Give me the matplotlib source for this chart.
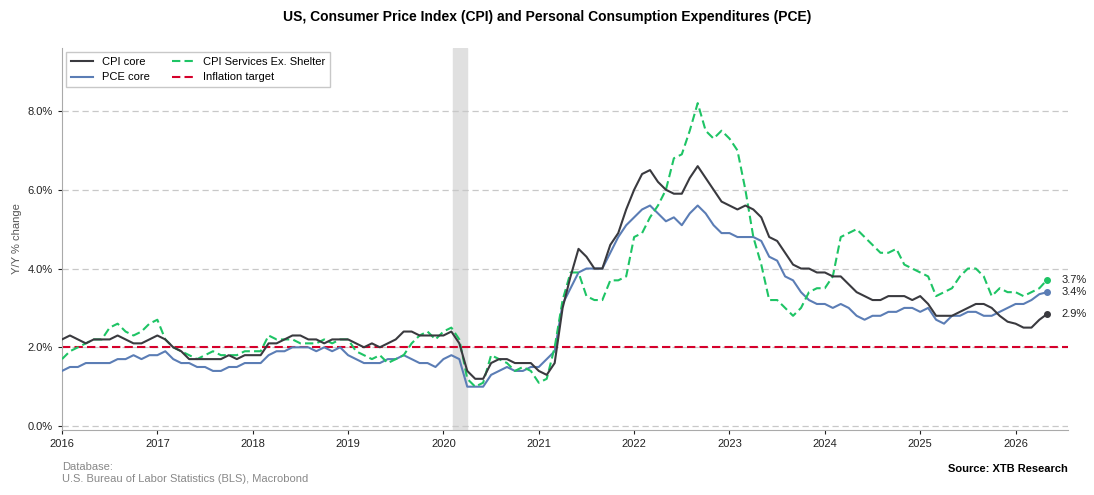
import matplotlib
matplotlib.use("Agg")
import matplotlib.pyplot as plt
import numpy as np
from matplotlib.ticker import FuncFormatter

plt.rcParams['font.family'] = ['Liberation Sans', 'DejaVu Sans']

# monthly values, Jan 2016 .. May 2026
cpi_core = [2.2, 2.3, 2.2, 2.1, 2.2, 2.2, 2.2, 2.3, 2.2, 2.1, 2.1, 2.2,
            2.3, 2.2, 2.0, 1.9, 1.7, 1.7, 1.7, 1.7, 1.7, 1.8, 1.7, 1.8,
            1.8, 1.8, 2.1, 2.1, 2.2, 2.3, 2.3, 2.2, 2.2, 2.1, 2.2, 2.2,
            2.2, 2.1, 2.0, 2.1, 2.0, 2.1, 2.2, 2.4, 2.4, 2.3, 2.3, 2.3,
            2.3, 2.4, 2.1, 1.4, 1.2, 1.2, 1.6, 1.7, 1.7, 1.6, 1.6, 1.6,
            1.4, 1.3, 1.6, 3.0, 3.8, 4.5, 4.3, 4.0, 4.0, 4.6, 4.9, 5.5,
            6.0, 6.4, 6.5, 6.2, 6.0, 5.9, 5.9, 6.3, 6.6, 6.3, 6.0, 5.7,
            5.6, 5.5, 5.6, 5.5, 5.3, 4.8, 4.7, 4.4, 4.1, 4.0, 4.0, 3.9,
            3.9, 3.8, 3.8, 3.6, 3.4, 3.3, 3.2, 3.2, 3.3, 3.3, 3.3, 3.2,
            3.3, 3.1, 2.8, 2.8, 2.8, 2.9, 3.0, 3.1, 3.1, 3.0, 2.8, 2.65,
            2.6, 2.5, 2.5, 2.7, 2.85]
pce_core = [1.4, 1.5, 1.5, 1.6, 1.6, 1.6, 1.6, 1.7, 1.7, 1.8, 1.7, 1.8,
            1.8, 1.9, 1.7, 1.6, 1.6, 1.5, 1.5, 1.4, 1.4, 1.5, 1.5, 1.6,
            1.6, 1.6, 1.8, 1.9, 1.9, 2.0, 2.0, 2.0, 1.9, 2.0, 1.9, 2.0,
            1.8, 1.7, 1.6, 1.6, 1.6, 1.7, 1.7, 1.8, 1.7, 1.6, 1.6, 1.5,
            1.7, 1.8, 1.7, 1.0, 1.0, 1.0, 1.3, 1.4, 1.5, 1.4, 1.4, 1.5,
            1.5, 1.7, 1.9, 3.1, 3.5, 3.9, 4.0, 4.0, 4.0, 4.4, 4.8, 5.1,
            5.3, 5.5, 5.6, 5.4, 5.2, 5.3, 5.1, 5.4, 5.6, 5.4, 5.1, 4.9,
            4.9, 4.8, 4.8, 4.8, 4.7, 4.3, 4.2, 3.8, 3.7, 3.4, 3.2, 3.1,
            3.1, 3.0, 3.1, 3.0, 2.8, 2.7, 2.8, 2.8, 2.9, 2.9, 3.0, 3.0,
            2.9, 3.0, 2.7, 2.6, 2.8, 2.8, 2.9, 2.9, 2.8, 2.8, 2.9, 3.0,
            3.1, 3.1, 3.2, 3.35, 3.4]
svc_ex_shelter = [1.7, 1.9, 2.0, 2.1, 2.2, 2.2, 2.5, 2.6, 2.4, 2.3, 2.4, 2.6,
                  2.7, 2.2, 2.0, 1.9, 1.8, 1.7, 1.8, 1.9, 1.8, 1.8, 1.8, 1.9,
                  1.9, 1.9, 2.3, 2.2, 2.2, 2.2, 2.1, 2.1, 2.1, 2.2, 2.1, 2.2,
                  2.2, 1.9, 1.8, 1.7, 1.8, 1.6, 1.7, 1.8, 2.1, 2.3, 2.4, 2.2,
                  2.4, 2.5, 2.2, 1.2, 1.0, 1.1, 1.8, 1.7, 1.6, 1.4, 1.5, 1.4,
                  1.1, 1.2, 2.0, 3.2, 3.9, 3.9, 3.3, 3.2, 3.2, 3.7, 3.7, 3.8,
                  4.8, 4.9, 5.3, 5.6, 6.0, 6.8, 6.9, 7.5, 8.2, 7.5, 7.3, 7.5,
                  7.3, 7.0, 6.0, 4.8, 4.1, 3.2, 3.2, 3.0, 2.8, 3.0, 3.4, 3.5,
                  3.5, 3.8, 4.8, 4.9, 5.0, 4.8, 4.6, 4.4, 4.4, 4.5, 4.1, 4.0,
                  3.9, 3.8, 3.3, 3.4, 3.5, 3.8, 4.0, 4.0, 3.8, 3.3, 3.5, 3.4,
                  3.4, 3.3, 3.4, 3.5, 3.72]
target = 2.0
recession = (2020.1, 2020.25)
years = list(range(2016, 2027))

x = 2016 + np.arange(len(cpi_core)) / 12.0

fig = plt.figure(figsize=(10.94, 4.95), dpi=100)
ax = fig.add_axes([62 / 1094, 1 - 430 / 495, (1068 - 62) / 1094, (430 - 48) / 495])

ax.axvspan(*recession, color='#e0e0e0', zorder=0)
ax.axhline(target, color='#d5002b', ls=(0, (4, 2)), lw=1.5, label='Inflation target', zorder=2)
ax.plot(x, cpi_core, color='#3a3a3f', lw=1.5, label='CPI core', zorder=4)
ax.plot(x, pce_core, color='#5b7db5', lw=1.5, label='PCE core', zorder=3)
ax.plot(x, svc_ex_shelter, color='#1ec465', lw=1.5, ls=(0, (4, 2)), label='CPI Services Ex. Shelter', zorder=3)

for ser, col in [(svc_ex_shelter, '#1ec465'), (pce_core, '#5b7db5'), (cpi_core, '#3a3a3f')]:
    ax.plot(x[-1], ser[-1], 'o', color=col, ms=4, zorder=5)
    ax.annotate(f"{ser[-1]:.1f}%", (x[-1], ser[-1]), xytext=(10, 0), textcoords='offset points',
                va='center', fontsize=8, color='#222222')

ax.set_xlim(2016, 2026.55)
ax.set_ylim(-0.1, 9.6)
ax.set_xticks(years)
ax.set_xticklabels([str(y) for y in years])
ax.set_yticks([0, 2, 4, 6, 8])
ax.yaxis.set_major_formatter(FuncFormatter(lambda v, p: f"{v:.1f}%"))
ax.tick_params(labelsize=8, length=3, colors='#222222')
ax.grid(axis='y', color='#c8c8c8', ls=(0, (5, 3)), lw=0.9)
for s in ['top', 'right']:
    ax.spines[s].set_visible(False)
for s in ['left', 'bottom']:
    ax.spines[s].set_color('#aaaaaa')
ax.set_ylabel('Y/Y % change', fontsize=8, color='#555555')

handles, labels = ax.get_legend_handles_labels()
order = [1, 2, 3, 0]
ax.legend([handles[i] for i in order], [labels[i] for i in order], ncol=2, loc='upper left',
          fontsize=8, frameon=True, edgecolor='#bbbbbb', fancybox=False, borderaxespad=0.4)

fig.suptitle('US, Consumer Price Index (CPI) and Personal Consumption Expenditures (PCE)',
             y=0.98, fontsize=10, fontweight='bold')
fig.text(62 / 1094, 1 - 473 / 495, 'Database:\nU.S. Bureau of Labor Statistics (BLS), Macrobond',
         fontsize=8, color='#888888', va='center')
fig.text(1068 / 1094, 1 - 469 / 495, 'Source: XTB Research', fontsize=8, fontweight='bold',
         ha='right', va='center')

fig.savefig('out.png', dpi=100)
